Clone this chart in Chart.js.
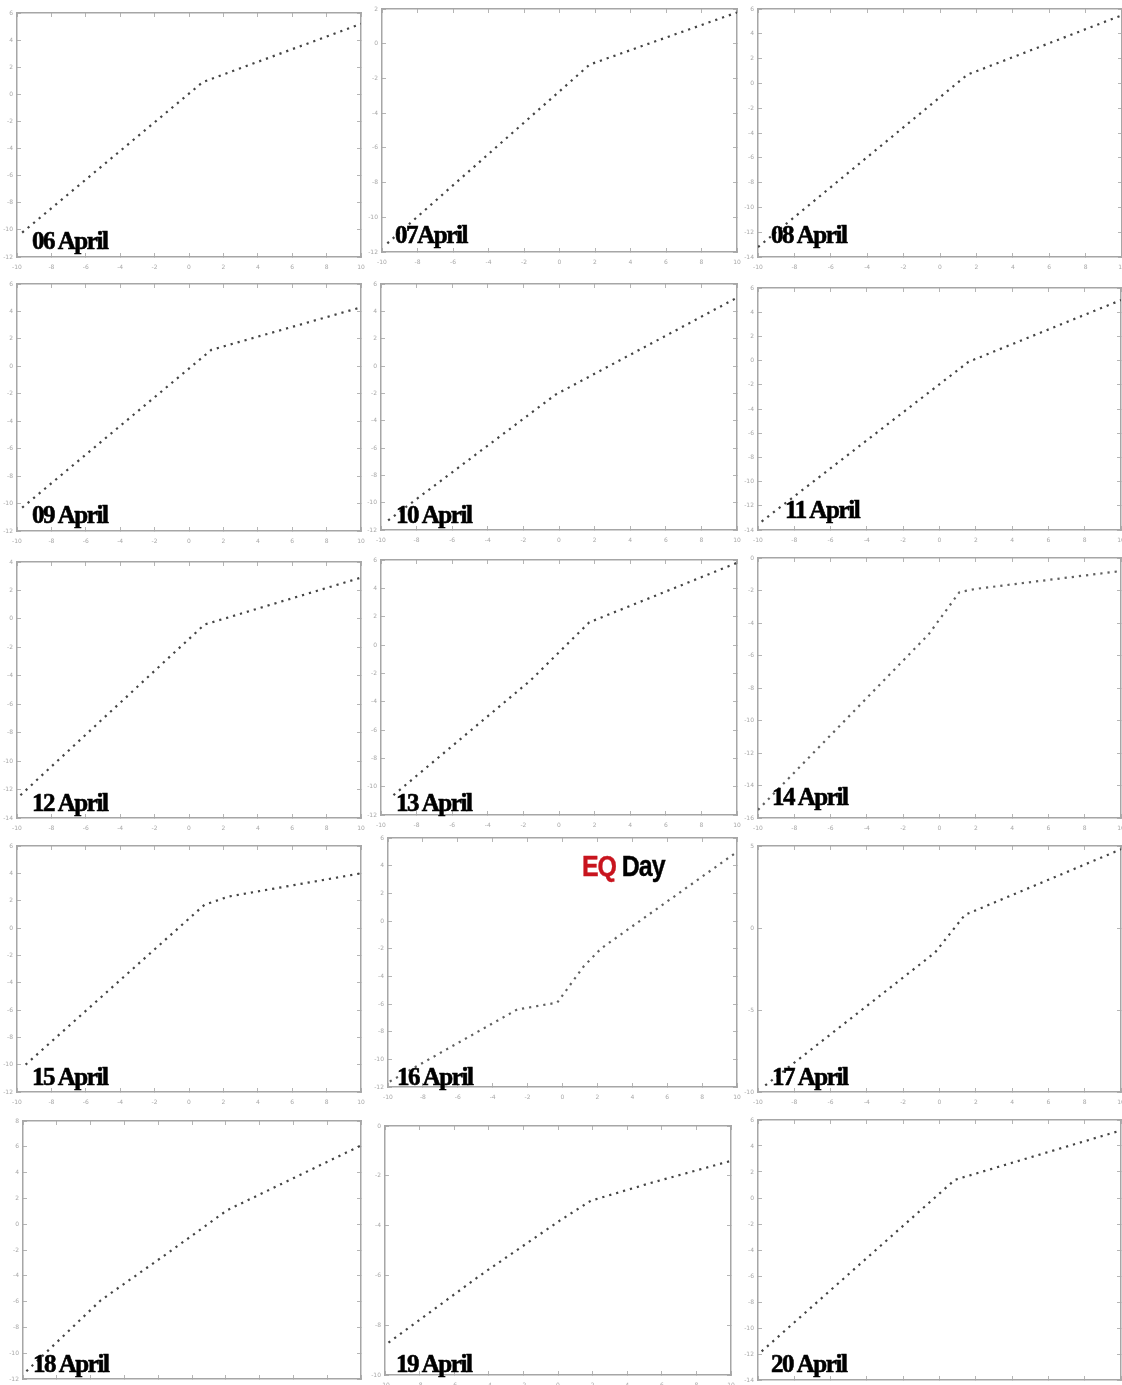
<!DOCTYPE html>
<html>
<head>
<meta charset="utf-8">
<script src="https://cdn.jsdelivr.net/npm/chart.js@4.4.1/dist/chart.umd.min.js"></script>
<style>
  html, body { margin: 0; padding: 0; background: #fff; }
  body { width: 1122px; height: 1385px; position: relative; overflow: hidden; }
  canvas { position: absolute; }
  .day {
    position: absolute; font-family: "Liberation Serif", serif; font-weight: bold;
    font-size: 25px; line-height: 25px; letter-spacing: -1.4px; color: #000;
    -webkit-text-stroke: 0.6px #000; white-space: nowrap;
  }
  .eq {
    position: absolute; left: 582px; top: 852px; font-family: "Liberation Sans Narrow", "Liberation Sans", sans-serif;
    font-weight: bold; font-size: 29px; line-height: 29px; letter-spacing: -1.2px; white-space: nowrap;
    transform: scaleX(0.86); transform-origin: left top; -webkit-text-stroke: 0.4px;
  }
</style>
</head>
<body>
<script>
// fechas de cada panel
const fechas = ['06 April', '07April', '08 April', '09 April', '10 April', '11 April', '12 April', '13 April',
  '14 April', '15 April', '16 April', '17 April', '18 April', '19 April', '20 April'];

const x06 = [-9.7, 0.8, 10],   y06 = [-10.2, 0.9, 5.2];
const x07 = [-9.7, 0.6, 1.7, 10], y07 = [-11.5, -2.2, -1.2, 1.8];
const x08 = [-10, 1.5, 10],    y08 = [-13.2, 0.7, 5.5];
const x09 = [-9.7, 1.3, 10],   y09 = [-10.3, 1.2, 4.3];
const x10 = [-9.6, -0.2, 10],  y10 = [-11.3, -2.1, 5.0];
const x11 = [-9.8, 1.6, 10],   y11 = [-13.3, -0.1, 5.0];
const x12 = [-9.8, 0.9, 10],   y12 = [-12.4, -0.4, 2.9];
const x13 = [-9.3, -1.6, 1.7, 10], y13 = [-10.6, -2.5, 1.6, 5.8];
const x14 = [-10, -0.6, 1.1, 2.0, 10], y14 = [-15.5, -4.7, -2.1, -1.9, -0.8];
const x15 = [-9.5, 0.9, 2.3, 10], y15 = [-10.0, 1.7, 2.3, 4.0];
const x16 = [-9.9, -2.6, -0.3, 1.2, 2.2, 10], y16 = [-11.6, -6.4, -5.9, -3.3, -2.0, 5.0];
const x17 = [-9.6, -0.25, 1.4, 10], y17 = [-9.6, -1.5, 0.8, 4.8];
const x18 = [-9.8, -5.4, -1.5, 2.1, 10], y18 = [-11.4, -5.9, -2.3, 1.1, 6.1];
const x19 = [-9.8, -4.5, 0.1, 1.9, 5.3, 10], y19 = [-8.7, -6.0, -3.8, -3.0, -2.3, -1.4];
const x20 = [-9.8, 0.85, 10],  y20 = [-11.8, 1.4, 5.2];

const serieX = [x06, x07, x08, x09, x10, x11, x12, x13, x14, x15, x16, x17, x18, x19, x20];
const serieY = [y06, y07, y08, y09, y10, y11, y12, y13, y14, y15, y16, y17, y18, y19, y20];

// rangos del eje y
const yMin  = [-12, -12, -14, -12, -12, -14, -14, -12, -16, -12, -12, -10, -12, -10, -14];
const yMax  = [6, 2, 6, 6, 6, 6, 4, 6, 0, 6, 6, 5, 8, 0, 6];
const yStep = [2, 2, 2, 2, 2, 2, 2, 2, 2, 2, 2, 5, 2, 2, 2];
const xTicks = [-10, 10, 2];

// posicion de cada area de grafico [izq, arriba, der, abajo]
const cajas = [
  [17, 13, 361, 257], [382, 9, 737, 252], [758, 9, 1122, 257],
  [17, 284, 361, 531], [381, 284, 737, 530], [758, 288, 1121, 530],
  [17, 562, 361, 818], [381, 560, 737, 815], [758, 558, 1121, 818],
  [17, 846, 361, 1092], [388, 838, 737, 1087], [758, 846, 1121, 1092],
  [23, 1121, 361, 1379], [385, 1126, 731, 1375], [758, 1120, 1121, 1380]
];
// posicion de los textos [izq, linea base]
const textos = [
  [32, 249], [395, 243], [771, 243], [32, 523], [396, 523], [785, 518],
  [32, 811], [396, 811], [772, 805], [32, 1085], [397, 1085], [772, 1085],
  [33, 1372], [396, 1372], [771, 1372]
];

const PAD_IZQ = 17, PAD_ABA = 16, PAD_ARR = 4, PAD_DER = 4;

function eje(pos, min, max, step, tam) {
  const horizontal = pos === 'bottom' || pos === 'top';
  return {
    type: 'linear', position: pos, min: min, max: max,
    ticks: {
      display: pos === 'bottom' || pos === 'left',
      stepSize: step, autoSkip: false, maxRotation: 0,
      font: { size: 6, family: 'DejaVu Sans' }, color: '#a8a8a8',
      padding: horizontal ? 11 : 8
    },
    grid: { drawOnChartArea: false, drawTicks: true, tickLength: -4, color: '#b5b5b5', lineWidth: 1 },
    border: { display: true, color: '#a6a6a6', width: 1.5 },
    afterFit: function(s) {
      if (horizontal) s.height = tam; else s.width = tam;
      // sin relleno extra por las etiquetas de los extremos
      s.paddingLeft = 0; s.paddingRight = 0; s.paddingTop = 0; s.paddingBottom = 0;
    }
  };
}

function grafico(i) {
  const c = cajas[i];
  const canvas = document.createElement('canvas');
  const w = c[2] - c[0] + PAD_IZQ + PAD_DER;
  const h = c[3] - c[1] + PAD_ARR + PAD_ABA;
  canvas.width = w; canvas.height = h;
  canvas.style.left = (c[0] - PAD_IZQ) + 'px';
  canvas.style.top = (c[1] - PAD_ARR) + 'px';
  canvas.style.width = w + 'px'; canvas.style.height = h + 'px';
  document.body.appendChild(canvas);

  const puntos = serieX[i].map(function(x, k) { return { x: x, y: serieY[i][k] }; });
  const color = (i === 8 || i === 10) ? '#606060' : '#444444';

  new Chart(canvas.getContext('2d'), {
    type: 'line',
    data: {
      datasets: [{
        data: puntos, borderColor: color, borderWidth: 2.2, borderDash: [2.2, 5],
        pointRadius: 0, tension: 0, fill: false
      }]
    },
    options: {
      responsive: false, animation: false, events: [],
      layout: { padding: { top: PAD_ARR, right: PAD_DER, left: 0, bottom: 0 } },
      plugins: { legend: { display: false }, tooltip: { enabled: false } },
      scales: {
        x: eje('bottom', xTicks[0], xTicks[1], xTicks[2], PAD_ABA),
        x2: eje('top', xTicks[0], xTicks[1], xTicks[2], 0),
        y: eje('left', yMin[i], yMax[i], yStep[i], PAD_IZQ),
        y2: eje('right', yMin[i], yMax[i], yStep[i], 0)
      }
    }
  });

  const t = document.createElement('div');
  t.className = 'day';
  t.textContent = fechas[i];
  t.style.left = textos[i][0] + 'px';
  t.style.top = (textos[i][1] - 21) + 'px';
  document.body.appendChild(t);
}

for (let i = 0; i < fechas.length; i++) grafico(i);

const eq = document.createElement('div');
eq.className = 'eq';
eq.innerHTML = '<span style="color:#c8141e">EQ</span> <span style="color:#000">Day</span>';
document.body.appendChild(eq);
</script>
</body>
</html>
